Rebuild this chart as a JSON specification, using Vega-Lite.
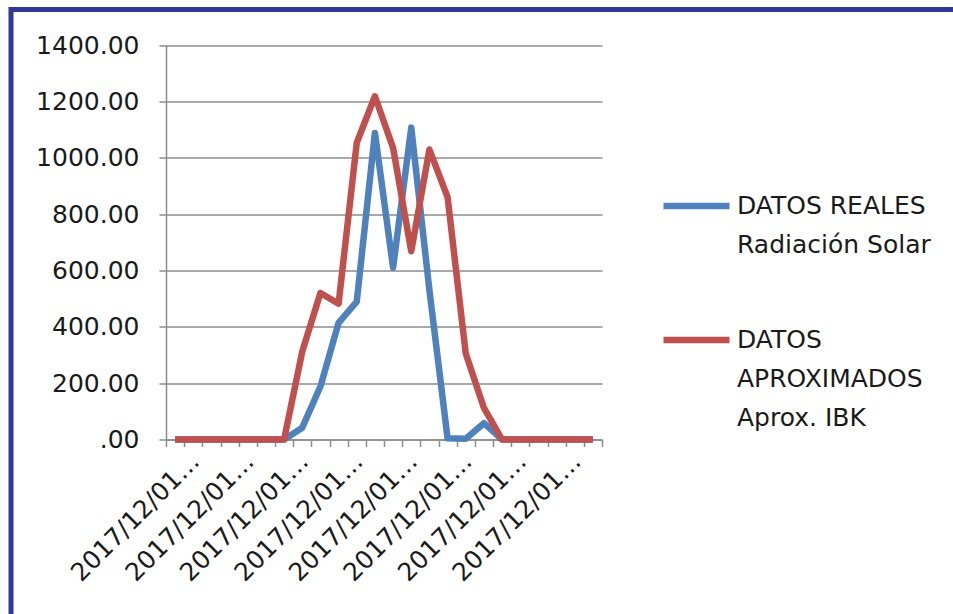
{
  "$schema": "https://vega.github.io/schema/vega-lite/v6.json",
  "autosize": {"type": "none"},
  "padding": {"left": 11, "top": 9.5, "right": 0, "bottom": 0},
  "width": 942,
  "height": 604.5,
  "background": "white",
  "config": {
    "font": "DejaVu Sans",
    "view": {
      "stroke": "#30369a",
      "strokeWidth": 5,
      "strokeDash": [942, 1546.5, 604.5],
      "strokeCap": "square"
    },
    "axis": {
      "domainColor": "#8c8c8c",
      "domainWidth": 1.5,
      "tickColor": "#8c8c8c",
      "tickWidth": 1.5,
      "tickSize": 7,
      "gridColor": "#8c8c8c",
      "gridWidth": 1.5,
      "labelFont": "DejaVu Sans",
      "labelFontSize": 25,
      "labelColor": "#1a1a1a"
    }
  },
  "data": {
    "values": [
      {"hora": "2017/12/01 00:00", "serie": "DATOS REALES Radiación Solar", "valor": 0},
      {"hora": "2017/12/01 01:00", "serie": "DATOS REALES Radiación Solar", "valor": 0},
      {"hora": "2017/12/01 02:00", "serie": "DATOS REALES Radiación Solar", "valor": 0},
      {"hora": "2017/12/01 03:00", "serie": "DATOS REALES Radiación Solar", "valor": 0},
      {"hora": "2017/12/01 04:00", "serie": "DATOS REALES Radiación Solar", "valor": 0},
      {"hora": "2017/12/01 05:00", "serie": "DATOS REALES Radiación Solar", "valor": 0},
      {"hora": "2017/12/01 06:00", "serie": "DATOS REALES Radiación Solar", "valor": 0},
      {"hora": "2017/12/01 07:00", "serie": "DATOS REALES Radiación Solar", "valor": 42},
      {"hora": "2017/12/01 08:00", "serie": "DATOS REALES Radiación Solar", "valor": 188},
      {"hora": "2017/12/01 09:00", "serie": "DATOS REALES Radiación Solar", "valor": 414},
      {"hora": "2017/12/01 10:00", "serie": "DATOS REALES Radiación Solar", "valor": 489},
      {"hora": "2017/12/01 11:00", "serie": "DATOS REALES Radiación Solar", "valor": 1088},
      {"hora": "2017/12/01 12:00", "serie": "DATOS REALES Radiación Solar", "valor": 610},
      {"hora": "2017/12/01 13:00", "serie": "DATOS REALES Radiación Solar", "valor": 1107},
      {"hora": "2017/12/01 14:00", "serie": "DATOS REALES Radiación Solar", "valor": 530},
      {"hora": "2017/12/01 15:00", "serie": "DATOS REALES Radiación Solar", "valor": 4},
      {"hora": "2017/12/01 16:00", "serie": "DATOS REALES Radiación Solar", "valor": 3},
      {"hora": "2017/12/01 17:00", "serie": "DATOS REALES Radiación Solar", "valor": 58},
      {"hora": "2017/12/01 18:00", "serie": "DATOS REALES Radiación Solar", "valor": 0},
      {"hora": "2017/12/01 19:00", "serie": "DATOS REALES Radiación Solar", "valor": 0},
      {"hora": "2017/12/01 20:00", "serie": "DATOS REALES Radiación Solar", "valor": 0},
      {"hora": "2017/12/01 21:00", "serie": "DATOS REALES Radiación Solar", "valor": 0},
      {"hora": "2017/12/01 22:00", "serie": "DATOS REALES Radiación Solar", "valor": 0},
      {"hora": "2017/12/01 23:00", "serie": "DATOS REALES Radiación Solar", "valor": 0},
      {"hora": "2017/12/01 00:00", "serie": "DATOS APROXIMADOS Aprox. IBK", "valor": 0},
      {"hora": "2017/12/01 01:00", "serie": "DATOS APROXIMADOS Aprox. IBK", "valor": 0},
      {"hora": "2017/12/01 02:00", "serie": "DATOS APROXIMADOS Aprox. IBK", "valor": 0},
      {"hora": "2017/12/01 03:00", "serie": "DATOS APROXIMADOS Aprox. IBK", "valor": 0},
      {"hora": "2017/12/01 04:00", "serie": "DATOS APROXIMADOS Aprox. IBK", "valor": 0},
      {"hora": "2017/12/01 05:00", "serie": "DATOS APROXIMADOS Aprox. IBK", "valor": 0},
      {"hora": "2017/12/01 06:00", "serie": "DATOS APROXIMADOS Aprox. IBK", "valor": 0},
      {"hora": "2017/12/01 07:00", "serie": "DATOS APROXIMADOS Aprox. IBK", "valor": 312},
      {"hora": "2017/12/01 08:00", "serie": "DATOS APROXIMADOS Aprox. IBK", "valor": 520},
      {"hora": "2017/12/01 09:00", "serie": "DATOS APROXIMADOS Aprox. IBK", "valor": 482},
      {"hora": "2017/12/01 10:00", "serie": "DATOS APROXIMADOS Aprox. IBK", "valor": 1053},
      {"hora": "2017/12/01 11:00", "serie": "DATOS APROXIMADOS Aprox. IBK", "valor": 1218},
      {"hora": "2017/12/01 12:00", "serie": "DATOS APROXIMADOS Aprox. IBK", "valor": 1035},
      {"hora": "2017/12/01 13:00", "serie": "DATOS APROXIMADOS Aprox. IBK", "valor": 668},
      {"hora": "2017/12/01 14:00", "serie": "DATOS APROXIMADOS Aprox. IBK", "valor": 1029},
      {"hora": "2017/12/01 15:00", "serie": "DATOS APROXIMADOS Aprox. IBK", "valor": 860},
      {"hora": "2017/12/01 16:00", "serie": "DATOS APROXIMADOS Aprox. IBK", "valor": 305},
      {"hora": "2017/12/01 17:00", "serie": "DATOS APROXIMADOS Aprox. IBK", "valor": 112},
      {"hora": "2017/12/01 18:00", "serie": "DATOS APROXIMADOS Aprox. IBK", "valor": 0},
      {"hora": "2017/12/01 19:00", "serie": "DATOS APROXIMADOS Aprox. IBK", "valor": 0},
      {"hora": "2017/12/01 20:00", "serie": "DATOS APROXIMADOS Aprox. IBK", "valor": 0},
      {"hora": "2017/12/01 21:00", "serie": "DATOS APROXIMADOS Aprox. IBK", "valor": 0},
      {"hora": "2017/12/01 22:00", "serie": "DATOS APROXIMADOS Aprox. IBK", "valor": 0},
      {"hora": "2017/12/01 23:00", "serie": "DATOS APROXIMADOS Aprox. IBK", "valor": 0}
    ]
  },
  "mark": {"type": "line", "strokeWidth": 6.5, "strokeJoin": "round"},
  "encoding": {
    "x": {
      "field": "hora",
      "type": "ordinal",
      "sort": null,
      "scale": {"type": "band", "range": [155, 591], "paddingInner": 0, "paddingOuter": 0},
      "axis": {
        "title": null,
        "offset": -174.5,
        "tickBand": "extent",
        "grid": false,
        "labelAngle": -45,
        "labelPadding": 2,
        "labelOffset": -7,
        "labelExpr": "toNumber(substring(datum.label, 11, 13)) % 3 == 1 ? substring(datum.label, 0, 10) + '…' : ''"
      }
    },
    "y": {
      "field": "valor",
      "type": "quantitative",
      "scale": {"domain": [0, 1400], "range": [430, 35.5], "nice": false},
      "axis": {
        "title": null,
        "offset": -155,
        "grid": true,
        "values": [0, 200, 400, 600, 800, 1000, 1200, 1400],
        "labelPadding": 20,
        "labelExpr": "datum.value == 0 ? '.00' : format(datum.value, '.2f')"
      }
    },
    "color": {
      "field": "serie",
      "type": "nominal",
      "sort": ["DATOS REALES Radiación Solar", "DATOS APROXIMADOS Aprox. IBK"],
      "scale": {"range": ["#4f81bd", "#c0504d"]},
      "legend": {
        "orient": "none",
        "legendX": 649,
        "legendY": 160,
        "title": null,
        "symbolType": "stroke",
        "symbolStrokeWidth": 6.5,
        "symbolSize": 4356,
        "labelFont": "DejaVu Sans",
        "labelFontSize": 25,
        "labelColor": "#1a1a1a",
        "labelLimit": 400,
        "labelOffset": 4,
        "rowPadding": 45,
        "labelExpr": "datum.label == 'DATOS REALES Radiación Solar' ? ['DATOS REALES', 'Radiación Solar'] : ['DATOS', 'APROXIMADOS', 'Aprox. IBK']",
        "encode": {"labels": {"update": {"lineHeight": {"value": 39}}}}
      }
    }
  }
}
